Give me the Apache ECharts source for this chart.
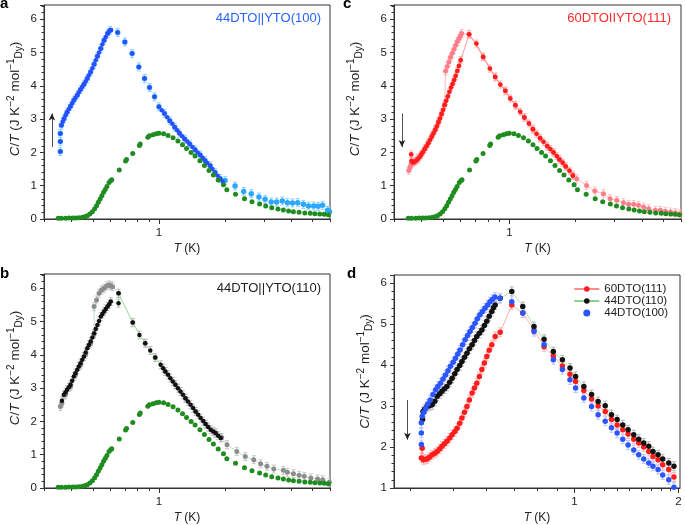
<!DOCTYPE html>
<html><head><meta charset="utf-8">
<script src="https://cdn.jsdelivr.net/npm/echarts@6/dist/echarts.min.js"></script>
<style>html,body{margin:0;padding:0;background:#fff}#c{width:685px;height:525px}</style>
</head><body><div id="c"></div>
<script>
// ===== DATA (T in K, C/T in J K^-2 mol^-1 Dy) =====
// bulk reference (green), shown in panels a, b, c
const bulkDTO = [[0.348,0.02],[0.36,0.02],[0.376,0.02],[0.39,0.03],[0.405,0.03],[0.418,0.03],[0.432,0.04],[0.448,0.05],[0.46,0.07],[0.472,0.10],[0.485,0.15],[0.498,0.22],[0.51,0.31],[0.52,0.40],[0.53,0.50],[0.54,0.60],[0.55,0.70],[0.56,0.80],[0.57,0.89],[0.58,0.98],[0.593,1.10],[0.603,1.15],[0.61,1.18],[0.66,1.47],[0.705,1.74],[0.712,1.79],[0.76,1.97],[0.815,2.21],[0.822,2.25],[0.89,2.46],[0.905,2.50],[0.94,2.53],[0.972,2.56],[1.0,2.58],[1.05,2.56],[1.10,2.51],[1.159,2.44],[1.22,2.34],[1.28,2.23],[1.335,2.12],[1.40,2.00],[1.46,1.89],[1.536,1.75],[1.61,1.61],[1.69,1.46],[1.769,1.32],[1.86,1.17],[1.966,1.03],[2.036,0.88],[2.23,0.74],[2.45,0.61],[2.65,0.52],[2.87,0.45],[3.06,0.39],[3.26,0.34],[3.48,0.30],[3.68,0.27],[3.89,0.24],[4.09,0.22],[4.34,0.20],[4.61,0.18],[4.88,0.17],[5.12,0.16],[5.39,0.15],[5.65,0.14],[5.90,0.13]];

// panel a: 44DTO||YTO(100)
const a100Light = [[0.356,2.03],[0.356,2.33],[0.356,2.57],[0.360,2.82],[0.370,3.01],[0.382,3.21],[0.396,3.39],[0.410,3.57],[0.425,3.72],[0.440,3.89],[0.456,4.05],[0.472,4.22],[0.489,4.42],[0.507,4.65],[0.525,4.89],[0.544,5.12],[0.563,5.37],[0.584,5.57],[0.600,5.67],[0.649,5.60],[0.700,5.32],[0.755,4.97],[0.810,4.57],[0.860,4.22],[0.906,3.95],[0.955,3.67],[1.00,3.37],[1.06,3.17],[1.12,2.95],[1.18,2.76],[1.24,2.58],[1.31,2.40],[1.38,2.25],[1.46,2.08],[1.54,1.92],[1.62,1.76],[1.71,1.60],[1.80,1.40],[1.90,1.21],[2.00,1.16],[2.22,0.99],[2.43,0.83],[2.63,0.76],[2.85,0.66],[3.04,0.59],[3.24,0.51],[3.43,0.51],[3.64,0.54],[3.84,0.49],[4.05,0.48],[4.28,0.49],[4.54,0.44],[4.79,0.39],[5.06,0.39],[5.30,0.38],[5.55,0.41],[5.85,0.26],[5.97,0.22]];
const a100Dark = [[0.356,2.03],[0.356,2.33],[0.356,2.57],[0.360,2.82],[0.365,2.92],[0.370,3.01],[0.376,3.12],[0.382,3.21],[0.389,3.30],[0.396,3.39],[0.403,3.48],[0.410,3.57],[0.417,3.64],[0.425,3.72],[0.432,3.81],[0.440,3.89],[0.448,3.97],[0.456,4.05],[0.464,4.13],[0.472,4.22],[0.480,4.32],[0.489,4.42],[0.498,4.53],[0.507,4.65],[0.516,4.77],[0.525,4.89],[0.534,5.00],[0.544,5.12],[0.553,5.25],[0.563,5.37],[0.573,5.47],[0.584,5.57],[0.592,5.63],[0.600,5.67],[0.606,5.68],[0.649,5.60],[0.700,5.32],[0.755,4.97],[0.810,4.57],[0.860,4.22],[0.906,3.95],[0.955,3.67],[1.00,3.37],[1.03,3.27],[1.06,3.17],[1.09,3.06],[1.12,2.95],[1.15,2.86],[1.18,2.76],[1.21,2.67],[1.24,2.58],[1.275,2.49],[1.31,2.40],[1.345,2.33],[1.38,2.25],[1.42,2.16],[1.46,2.08],[1.50,2.00],[1.54,1.92],[1.58,1.84],[1.62,1.76],[1.66,1.68],[1.71,1.60],[1.75,1.50],[1.80,1.40],[1.85,1.30],[1.90,1.21],[1.95,1.13]];

// panel b: 44DTO||YTO(110)
const b110Black = [[0.362,2.62],[0.369,2.80],[0.376,2.88],[0.382,2.95],[0.389,3.03],[0.396,3.10],[0.403,3.22],[0.410,3.35],[0.417,3.45],[0.425,3.55],[0.432,3.65],[0.440,3.75],[0.448,3.85],[0.456,3.95],[0.464,4.07],[0.472,4.20],[0.480,4.30],[0.489,4.40],[0.498,4.52],[0.507,4.65],[0.516,4.78],[0.525,4.90],[0.534,5.02],[0.544,5.15],[0.553,5.23],[0.563,5.30],[0.573,5.38],[0.584,5.45],[0.594,5.52],[0.604,5.60],[0.655,5.55],[0.655,5.85],[0.760,4.97],[0.815,4.60],[0.866,4.35],[0.913,4.13],[0.962,3.92],[1.018,3.70],[1.045,3.60],[1.069,3.50],[1.100,3.40],[1.127,3.30],[1.157,3.20],[1.188,3.10],[1.220,3.00],[1.253,2.90],[1.286,2.80],[1.320,2.70],[1.355,2.60],[1.393,2.50],[1.430,2.40],[1.468,2.30],[1.508,2.20],[1.548,2.10],[1.590,2.01],[1.630,1.92],[1.675,1.83],[1.720,1.75],[1.765,1.70],[1.810,1.65],[1.860,1.57],[1.910,1.50]];
const b110Gray = [[0.356,2.45],[0.362,2.55],[0.376,2.80],[0.396,3.05],[0.417,3.40],[0.440,3.70],[0.464,4.02],[0.489,4.35],[0.507,4.62],[0.507,5.45],[0.520,5.65],[0.534,5.85],[0.548,5.95],[0.563,6.00],[0.578,6.07],[0.594,6.10],[0.604,6.08],[0.615,6.05],[0.655,5.85],[0.760,4.97],[0.866,4.35],[0.962,3.92],[1.069,3.50],[1.188,3.10],[1.320,2.70],[1.468,2.30],[1.630,1.92],[1.810,1.65],[1.930,1.52],[2.04,1.30],[2.26,1.10],[2.47,0.95],[2.70,0.85],[2.90,0.73],[3.10,0.65],[3.33,0.57],[3.68,0.53],[3.84,0.47],[4.09,0.43],[4.34,0.38],[4.58,0.35],[4.91,0.30],[5.27,0.27],[5.56,0.25],[5.96,0.17]];

// panel c: 60DTO||YTO(111)
const c111Red = [[0.359,1.94],[0.360,1.74],[0.365,1.70],[0.371,1.71],[0.377,1.74],[0.384,1.79],[0.391,1.85],[0.398,1.92],[0.405,2.00],[0.413,2.09],[0.421,2.18],[0.429,2.27],[0.437,2.37],[0.445,2.47],[0.453,2.57],[0.461,2.67],[0.469,2.78],[0.477,2.90],[0.485,3.02],[0.493,3.15],[0.501,3.28],[0.509,3.42],[0.517,3.55],[0.526,3.68],[0.535,3.82],[0.544,3.95],[0.553,4.06],[0.562,4.18],[0.571,4.30],[0.581,4.45],[0.591,4.60],[0.602,4.77],[0.657,5.55],[0.709,5.27],[0.761,4.87],[0.816,4.52],[0.863,4.27],[0.910,4.04],[0.959,3.85],[1.010,3.62],[1.065,3.42],[1.120,3.22],[1.170,3.05],[1.227,2.87],[1.279,2.70],[1.328,2.56],[1.379,2.43],[1.429,2.32],[1.484,2.19],[1.534,2.10],[1.586,2.00],[1.640,1.89],[1.687,1.79],[1.745,1.69],[1.800,1.58],[1.874,1.45],[1.940,1.30]];
const c111Pink = [[0.350,1.46],[0.354,1.55],[0.358,1.62],[0.363,1.68],[0.371,1.74],[0.384,1.82],[0.398,1.95],[0.413,2.12],[0.429,2.30],[0.445,2.50],[0.461,2.70],[0.477,2.93],[0.493,3.18],[0.509,3.45],[0.514,4.45],[0.523,4.58],[0.532,4.72],[0.541,4.86],[0.551,4.98],[0.561,5.10],[0.571,5.22],[0.581,5.33],[0.591,5.42],[0.600,5.50],[0.608,5.57],[0.657,5.55],[0.761,4.87],[0.863,4.27],[0.959,3.85],[1.065,3.42],[1.170,3.05],[1.279,2.70],[1.379,2.43],[1.484,2.19],[1.586,2.00],[1.687,1.79],[1.800,1.58],[1.940,1.32],[2.02,1.21],[2.24,1.01],[2.44,0.84],[2.67,0.76],[2.86,0.61],[3.07,0.56],[3.29,0.49],[3.47,0.44],[3.66,0.44],[3.85,0.41],[4.06,0.36],[4.28,0.31],[4.59,0.26],[4.84,0.26],[5.10,0.23],[5.38,0.21],[5.66,0.19],[5.94,0.16]];

// panel d: comparison
const d111 = [[0.360,1.73],[0.362,1.97],[0.365,1.69],[0.370,1.70],[0.374,1.71],[0.380,1.75],[0.387,1.81],[0.394,1.85],[0.400,1.89],[0.407,1.95],[0.413,2.02],[0.420,2.08],[0.427,2.14],[0.435,2.22],[0.442,2.30],[0.450,2.38],[0.457,2.46],[0.465,2.58],[0.472,2.71],[0.480,2.85],[0.488,2.99],[0.496,3.15],[0.505,3.32],[0.513,3.44],[0.521,3.56],[0.530,3.72],[0.539,3.89],[0.548,4.05],[0.557,4.21],[0.566,4.36],[0.576,4.50],[0.589,4.70],[0.609,4.80],[0.658,5.47],[0.708,5.27],[0.763,4.86],[0.816,4.45],[0.868,4.22],[0.922,3.98],[0.970,3.78],[1.007,3.60],[1.064,3.38],[1.120,3.17],[1.170,3.00],[1.227,2.87],[1.279,2.67],[1.328,2.54],[1.379,2.42],[1.429,2.32],[1.484,2.19],[1.534,2.10],[1.586,2.00],[1.640,1.89],[1.687,1.77],[1.745,1.69],[1.800,1.57],[1.874,1.45],[1.940,1.27]];
const d110 = [[0.363,2.67],[0.364,2.87],[0.368,2.92],[0.374,2.99],[0.380,3.01],[0.387,3.03],[0.394,3.12],[0.400,3.24],[0.407,3.30],[0.413,3.36],[0.420,3.42],[0.427,3.48],[0.435,3.58],[0.442,3.68],[0.450,3.79],[0.457,3.89],[0.465,3.99],[0.472,4.09],[0.480,4.19],[0.488,4.29],[0.496,4.40],[0.505,4.50],[0.513,4.60],[0.521,4.70],[0.530,4.78],[0.539,4.86],[0.548,4.97],[0.557,5.07],[0.566,5.19],[0.576,5.31],[0.582,5.40],[0.589,5.47],[0.609,5.63],[0.658,5.80],[0.708,5.43],[0.763,4.94],[0.816,4.63],[0.868,4.33],[0.922,4.13],[0.970,3.93],[1.007,3.72],[1.064,3.48],[1.120,3.28],[1.170,3.11],[1.227,3.01],[1.279,2.79],[1.328,2.67],[1.379,2.54],[1.429,2.42],[1.484,2.30],[1.534,2.19],[1.586,2.10],[1.640,2.02],[1.687,1.89],[1.745,1.81],[1.800,1.71],[1.874,1.61],[1.940,1.53]];
const d100 = [[0.360,2.06],[0.360,2.34],[0.360,2.59],[0.362,2.75],[0.366,2.85],[0.371,2.95],[0.376,3.05],[0.382,3.15],[0.389,3.28],[0.396,3.40],[0.402,3.48],[0.409,3.56],[0.416,3.66],[0.423,3.76],[0.430,3.86],[0.437,3.97],[0.445,4.07],[0.452,4.17],[0.459,4.27],[0.466,4.37],[0.474,4.50],[0.482,4.62],[0.490,4.72],[0.498,4.82],[0.506,4.92],[0.515,5.02],[0.523,5.13],[0.532,5.23],[0.541,5.31],[0.550,5.39],[0.560,5.47],[0.569,5.55],[0.578,5.60],[0.588,5.66],[0.608,5.63],[0.658,5.55],[0.708,5.27],[0.763,4.82],[0.816,4.50],[0.868,4.13],[0.922,3.89],[0.970,3.64],[1.007,3.44],[1.064,3.20],[1.120,2.99],[1.170,2.79],[1.227,2.63],[1.279,2.47],[1.328,2.34],[1.379,2.19],[1.429,2.05],[1.484,1.93],[1.534,1.81],[1.586,1.71],[1.640,1.61],[1.687,1.53],[1.745,1.45],[1.800,1.32],[1.874,1.20],[1.940,1.02]];

// axis ticks
const majorABC = [1];
const minorABC = [0.3,0.4,0.5,0.6,0.7,0.8,0.9,2,3,4,5,6];
const majorD = [1, 2];
const minorD = [3,4,5,6,7,8,10,11,12,13,14,15,16,17].map(k => k / 9);
const legendNames = ['60DTO(111)', '44DTO(110)', '44DTO(100)'];

// ===== CHART =====
const FONT = '"Liberation Sans", Arial, Helvetica, sans-serif';
const AX = '#333';
const TXT = '#222';

const grids = [
  {left:44, top:5, width:286, height:214},
  {left:44, top:274, width:286, height:214},
  {left:394, top:5, width:287, height:214},
  {left:394, top:275, width:286, height:213}
].map(g => Object.assign({show:true, borderColor:AX, borderWidth:1, backgroundColor:'transparent'}, g));

const yName = '{i|C}/{i|T} (J K{sup|−2} mol{sup|−1}{sub|Dy})';
function yAx(gi, min, max, gap, pad) {
  return {type:'value', gridIndex:gi, min:min, max:max, interval:1,
    name:yName, nameLocation:'middle', nameGap:gap, nameRotate:90,
    nameTextStyle:{fontFamily:FONT, fontSize:13.5, color:TXT, lineHeight:18, padding:[0,0,0,pad],
      rich:{i:{fontFamily:FONT, fontSize:13.5, fontStyle:'italic', color:TXT, lineHeight:18},
            sup:{fontFamily:FONT, fontSize:10, color:TXT, verticalAlign:'top', lineHeight:10},
            sub:{fontFamily:FONT, fontSize:10, color:TXT, verticalAlign:'bottom', lineHeight:10}}},
    axisLine:{show:true, onZero:false, lineStyle:{color:AX, width:1}},
    axisTick:{show:true, length:4, lineStyle:{color:AX}},
    minorTick:{show:true, splitNumber:5, length:2.5, lineStyle:{color:AX}},
    axisLabel:{margin:7, color:TXT, fontSize:11.5, fontFamily:FONT,
      formatter: v => (Math.abs(v - Math.round(v)) < 1e-6 ? String(Math.round(v)) : '')},
    splitLine:{show:false}, minorSplitLine:{show:false}};
}
function xAx(gi, min, max, major, minor, gap) {
  return [
    {type:'log', logBase:10, gridIndex:gi, min:min, max:max, position:'bottom',
     name:'{i|T} (K)', nameLocation:'middle', nameGap:gap,
     nameTextStyle:{fontFamily:FONT, fontSize:12, color:TXT,
       rich:{i:{fontFamily:FONT, fontSize:12, fontStyle:'italic', color:TXT}}},
     axisLine:{show:true, onZero:false, lineStyle:{color:AX, width:1}},
     axisTick:{show:true, length:5, customValues:major, lineStyle:{color:AX}},
     axisLabel:{show:true, customValues:major, margin:8, color:TXT, fontSize:11.5, fontFamily:FONT,
       formatter: v => String(Math.round(v * 100) / 100)},
     splitLine:{show:false}},
    {type:'log', logBase:10, gridIndex:gi, min:min, max:max, position:'bottom',
     axisLine:{show:false},
     axisTick:{show:true, length:3, customValues:minor, lineStyle:{color:AX}},
     axisLabel:{show:false}, splitLine:{show:false}}
  ];
}

function errBars(gi, data, color, half) {
  return {type:'custom', xAxisIndex:gi*2, yAxisIndex:gi, silent:true, z:1, clip:true,
    encode:{x:0, y:1}, data:data,
    renderItem: function (params, api) {
      const p = api.coord([api.value(0), api.value(1)]);
      const st = {stroke:color, lineWidth:1};
      return {type:'group', children:[
        {type:'line', shape:{x1:p[0], y1:p[1]-half, x2:p[0], y2:p[1]+half}, style:st},
        {type:'line', shape:{x1:p[0]-2, y1:p[1]-half, x2:p[0]+2, y2:p[1]-half}, style:st},
        {type:'line', shape:{x1:p[0]-2, y1:p[1]+half, x2:p[0]+2, y2:p[1]+half}, style:st}
      ]};
    }};
}
function scat(gi, name, data, color, size, z) {
  return {type:'scatter', name:name, xAxisIndex:gi*2, yAxisIndex:gi, data:data,
    symbol:'circle', symbolSize:size, z:z || 2, silent:true,
    itemStyle:{color:color, opacity:1}};
}
function lineS(gi, name, data, color, lineColor, size, z) {
  return {type:'line', name:name, xAxisIndex:gi*2, yAxisIndex:gi, data:data,
    symbol:'circle', symbolSize:size, showSymbol:true, z:z || 2, silent:true,
    itemStyle:{color:color}, lineStyle:{color:lineColor, width:0.7}};
}
function arrow(t, y1, y2) {
  return {silent:true, symbol:['none','arrow'], symbolSize:[5,7], animation:false,
    lineStyle:{color:'#222', width:0.8, type:'solid'}, label:{show:false},
    data:[[{coord:[t, y1]}, {coord:[t, y2]}]]};
}

const GREEN = '#1f8c1f';
const series = [];
// panel a (grid 0)
series.push(errBars(0, a100Light, '#8fd1ff', 4));
series.push(scat(0, 'a100L', a100Light, '#2aa8ff', 5.5, 2));
series.push(scat(0, 'a100D', a100Dark, '#2b4cff', 4.5, 3));
const ga = scat(0, 'bulkA', bulkDTO, GREEN, 5, 4);
ga.markLine = arrow(0.326, 2.16, 3.17);
series.push(ga);
// panel b (grid 1)
series.push(errBars(1, b110Gray, '#c8c8c8', 4));
series.push(lineS(1, 'b110G', b110Gray, '#8c8c8c', '#9fd89f', 5, 2));
series.push(errBars(1, b110Black, '#bdbdbd', 4));
series.push(lineS(1, 'b110K', b110Black, '#111111', '#9fd89f', 4.5, 3));
series.push(scat(1, 'bulkB', bulkDTO, GREEN, 5, 4));
// panel c (grid 2)
series.push(errBars(2, c111Pink, '#ffc0c6', 4));
series.push(lineS(2, 'c111P', c111Pink, '#ff7d89', '#ff9aa2', 5, 2));
series.push(errBars(2, c111Red, '#ffb0b0', 3.5));
series.push(lineS(2, 'c111R', c111Red, '#ff1c1c', '#ff7070', 4.8, 3));
const gc = scat(2, 'bulkC', bulkDTO, GREEN, 5, 4);
gc.markLine = arrow(0.326, 3.17, 2.16);
series.push(gc);
// panel d (grid 3)
series.push(errBars(3, d111, '#ffb3b3', 4.5));
series.push(errBars(3, d110, '#b5b5b5', 4.5));
series.push(errBars(3, d100, '#b9c3ff', 4.5));
series.push(lineS(3, legendNames[0], d111, '#ff1c1c', '#ff8c8c', 5.5, 3));
series.push(lineS(3, legendNames[1], d110, '#111111', '#8fd08f', 5.5, 4));
const db = scat(3, legendNames[2], d100, '#2b55ff', 5.5, 5);
db.markLine = arrow(0.328, 3.15, 2.18);
series.push(db);

const graphic = [
  {type:'text', x:0, y:-4, style:{text:'a', font:'bold 15px ' + FONT, fill:'#000'}},
  {type:'text', x:0, y:266, style:{text:'b', font:'bold 15px ' + FONT, fill:'#000'}},
  {type:'text', x:343, y:-4, style:{text:'c', font:'bold 15px ' + FONT, fill:'#000'}},
  {type:'text', x:347, y:266, style:{text:'d', font:'bold 15px ' + FONT, fill:'#000'}},
  {type:'text', x:321, y:18, style:{text:'44DTO||YTO(100)', font:'13px ' + FONT, fill:'#2864ff', align:'right', verticalAlign:'middle'}},
  {type:'text', x:671, y:18, style:{text:'60DTOIIYTO(111)', font:'13px ' + FONT, fill:'#ff2a2a', align:'right', verticalAlign:'middle'}},
  {type:'text', x:321, y:288, style:{text:'44DTO||YTO(110)', font:'13px ' + FONT, fill:'#222', align:'right', verticalAlign:'middle'}}
];

const chart = echarts.init(document.getElementById('c'), null, {renderer:'canvas'});
chart.setOption({
  animation:false,
  backgroundColor:'#fff',
  grid:grids,
  xAxis:[].concat(xAx(0,0.3,6,majorABC,minorABC,24), xAx(1,0.3,6,majorABC,minorABC,24),
                  xAx(2,0.3,6,majorABC,minorABC,24), xAx(3,0.3,2.02,majorD,minorD,24)),
  yAxis:[yAx(0,0,6.43,20,26), yAx(1,0,6.43,20,26), yAx(2,0,6.43,30,26), yAx(3,1,6.2,20,20)],
  legend:{data:legendNames, orient:'vertical', right:12, top:278, itemWidth:25, itemHeight:7, itemGap:0,
    textStyle:{fontFamily:FONT, fontSize:11.5, color:TXT}, selectedMode:false},
  graphic:graphic,
  series:series
});
</script></body></html>
